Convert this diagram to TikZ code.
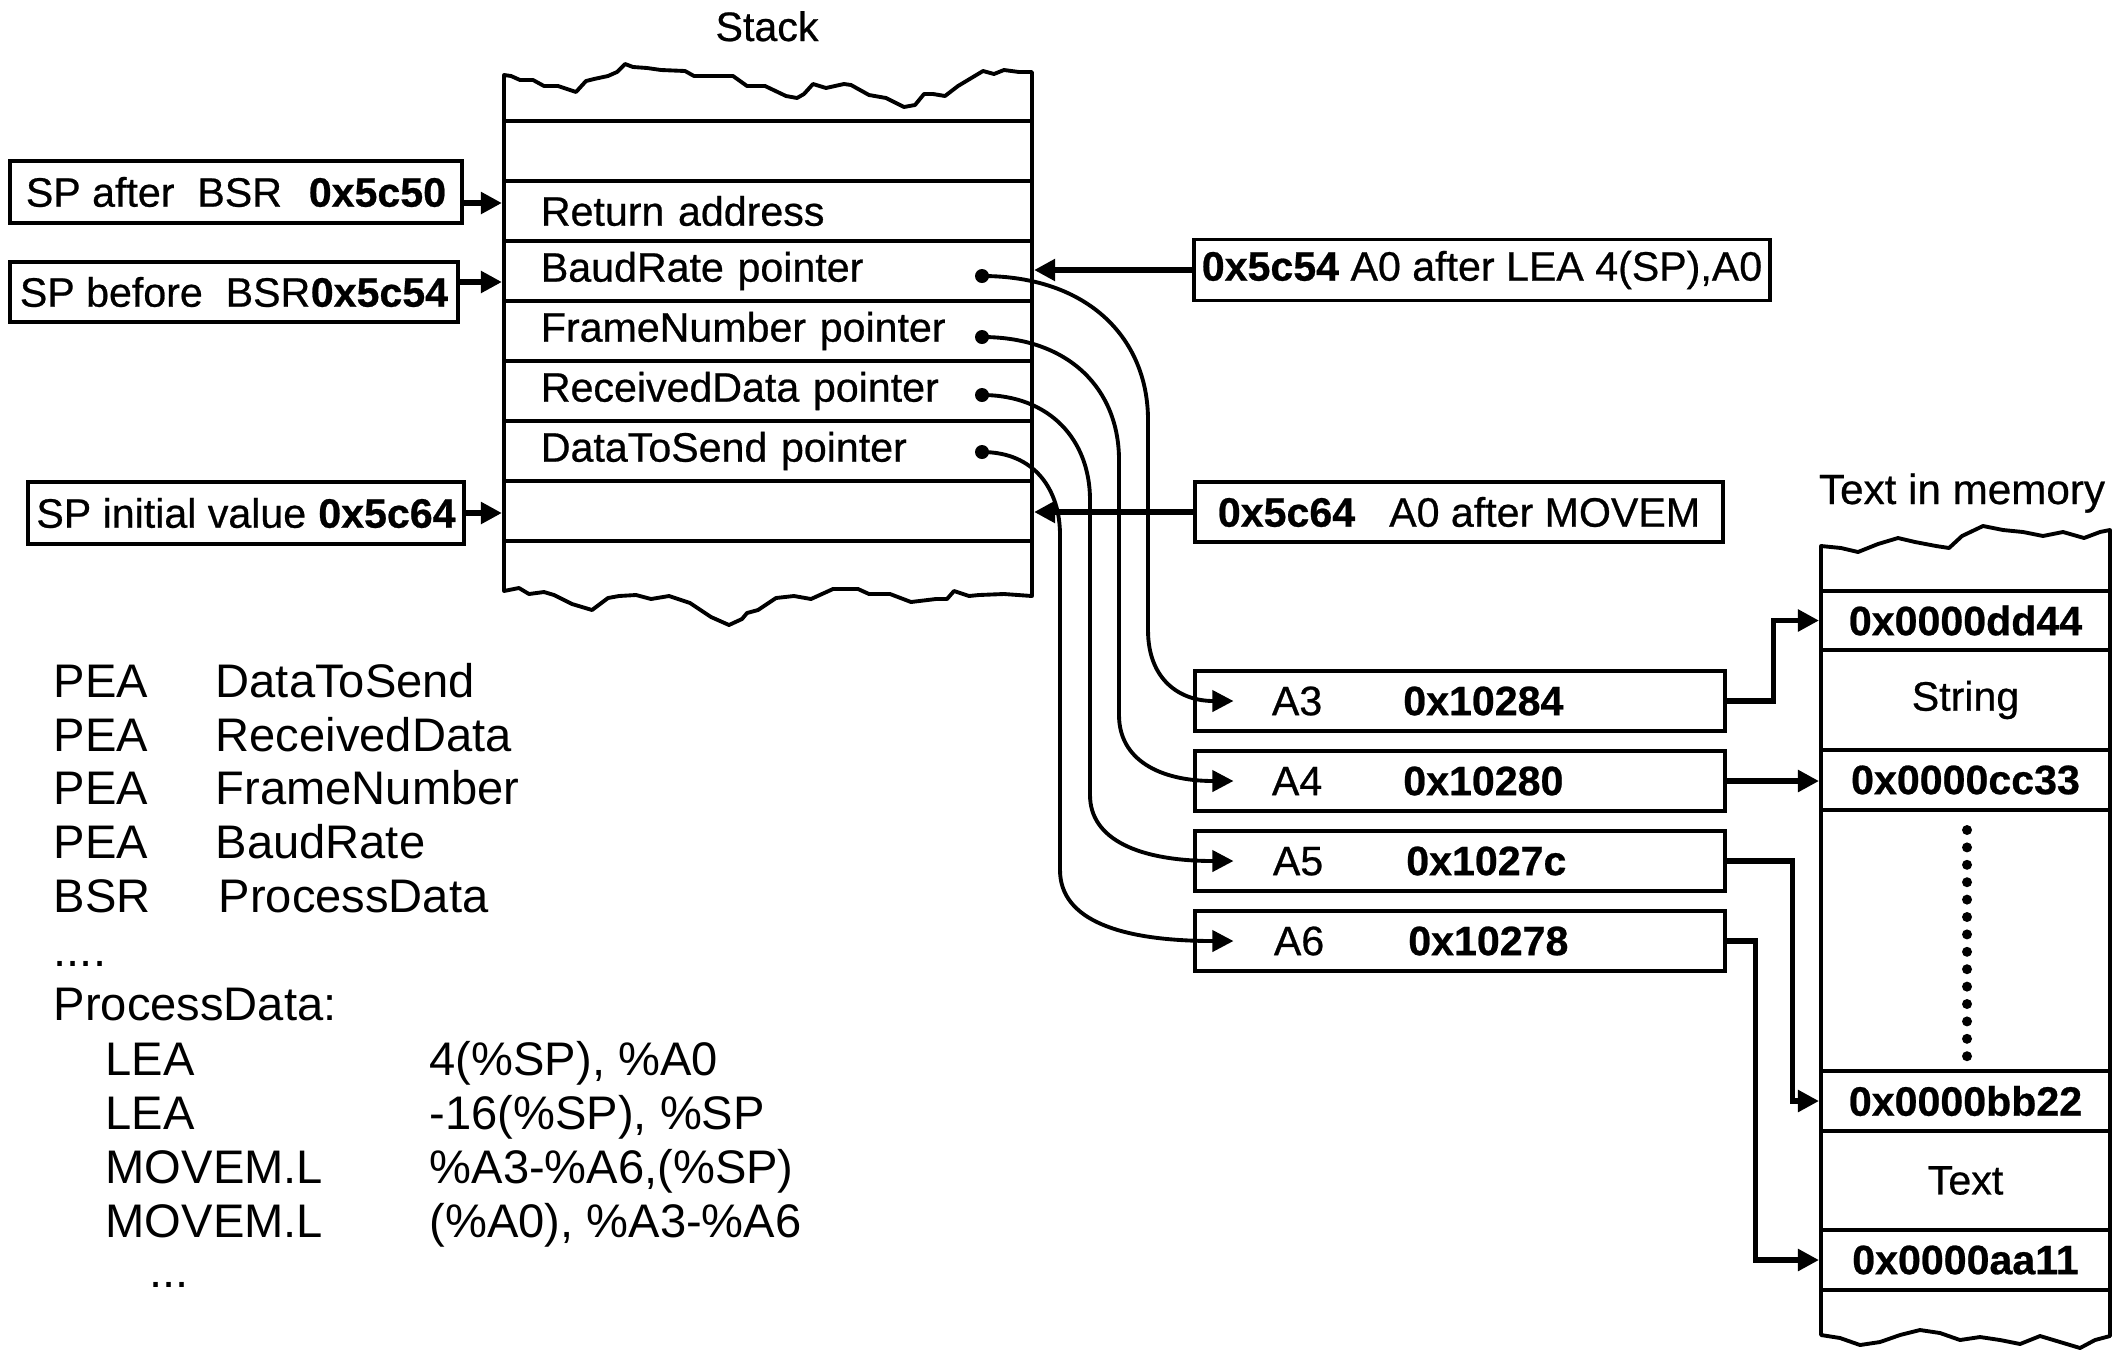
\documentclass[tikz,border=0pt]{standalone}
\usepackage{fontspec}
\setmainfont{Liberation Sans}
\newfontfamily\labfam[FakeBold=0.6]{Liberation Sans}
\usetikzlibrary{arrows.meta}
\newcommand\labfont{\labfam\fontsize{11.7}{14}\selectfont}
\newcommand\codefont{\fontsize{13.4}{16}\selectfont}
\begin{document}
\begin{tikzpicture}[x=0.01cm,y=-0.01cm,
  box/.style={draw,line width=1.1pt,inner sep=0pt,font=\labfont},
  cell/.style={draw,line width=1.1pt,minimum width=5.28cm,minimum height=0.6cm,text width=4.54cm,inner xsep=0.37cm,inner ysep=0pt,align=left,font=\labfont},
  mcell/.style={draw,line width=1.1pt,minimum width=2.89cm,inner sep=0pt,font=\labfont},
  reg/.style={draw,line width=1.1pt,minimum width=5.29cm,minimum height=0.6cm,inner sep=0pt,font=\labfont},
  code/.style={anchor=base west,inner sep=0pt,font=\codefont},
  arr/.style={-{Triangle[length=6pt,width=6pt]},line width=1.5pt},
  ptr/.style={-{Triangle[length=6pt,width=6pt]},line width=1.1pt},
  edge/.style={line width=1.1pt,line join=round}]
\useasboundingbox (0,0) rectangle (2116,1351);

% stack outline
\draw[edge] (504,75) -- (511,76) -- (520,80) -- (533,80) -- (544,86) -- (558,86) -- (576,92) -- (586,81) -- (594,79) -- (608,76) -- (617,72) -- (625,64) -- (633,67) -- (647,68) -- (661,70) -- (685,71) -- (694,76) -- (733,76) -- (747,86) -- (765,86) -- (786,96) -- (797,98) -- (804,94) -- (813,84) -- (826,88) -- (844,84) -- (851,85) -- (869,95) -- (886,98) -- (904,107) -- (915,105) -- (924,94) -- (933,94) -- (945,96) -- (958,86) -- (983,71) -- (994,74) -- (1004,70) -- (1019,72) -- (1032,72)
  -- (1032,596) -- (1004,594) -- (979,595) -- (969,596) -- (954,591) -- (947,599) -- (936,599) -- (911,602) -- (890,594) -- (869,594) -- (858,589) -- (833,589) -- (811,599) -- (794,596) -- (776,598) -- (758,610) -- (747,613) -- (742,619) -- (729,625) -- (711,617) -- (690,603) -- (669,596) -- (651,599) -- (636,595) -- (619,596) -- (608,598) -- (592,610) -- (572,604) -- (554,595) -- (544,592) -- (529,594) -- (519,588) -- (504,591) -- cycle;

\node[anchor=base,font=\labfont] (tStack) at (767,41) {Stack};
\node[cell] (sE) at (768,151) {};
\node[cell] (sRet) at (768,211) {Return address};
\node[cell] (sBaud) at (768,271) {BaudRate pointer};
\node[cell] (sFrame) at (768,331) {FrameNumber pointer};
\node[cell] (sRecv) at (768,391) {ReceivedData pointer};
\node[cell] (sDTS) at (768,451) {DataToSend pointer};
\node[cell] (sE2) at (768,511) {};

% SP boxes
\node[box,minimum width=4.52cm,minimum height=0.62cm] (spA) at (236,192) {\makebox[4.20cm][l]{SP after\ \ BSR\hfill\textbf{0x5c50}}};
\node[box,minimum width=4.48cm,minimum height=0.60cm] (spB) at (234,292) {\makebox[4.28cm][l]{SP before\ \ BSR\hfill\textbf{0x5c54}}};
\node[box,minimum width=4.36cm,minimum height=0.62cm] (spC) at (246,513) {\makebox[4.19cm][l]{SP initial value\hfill\textbf{0x5c64}}};
\draw[arr] ([yshift=-0.11cm]spA.east) -- ([yshift=-0.11cm]spA.east -| sRet.west);
\draw[arr] ([yshift=0.10cm]spB.east) -- ([yshift=0.10cm]spB.east -| sBaud.west);
\draw[arr] (spC.east) -- (spC.east -| sE2.west);

% A0 boxes
\node[box,minimum width=5.75cm,minimum height=0.61cm] (a0L) at (1482,270) {\textbf{0x5c54} A0 after LEA 4(SP),A0};
\node[box,minimum width=5.28cm,minimum height=0.60cm] (a0M) at (1459,512) {\textbf{0x5c64}\hspace{0.34cm}A0 after MOVEM};
\draw[arr] (a0L.west) -- (a0L.west -| sBaud.east);
\draw[arr] (a0M.west) -- (a0M.west -| sE2.east);

% registers
\node[reg] (r3) at (1460,701) {\makebox[3.76cm][l]{A3\hspace{0.81cm}\textbf{0x10284}}};
\node[reg] (r4) at (1460,781) {\makebox[3.76cm][l]{A4\hspace{0.81cm}\textbf{0x10280}}};
\node[reg] (r5) at (1460,861) {\makebox[3.74cm][l]{A5\hspace{0.83cm}\textbf{0x1027c}}};
\node[reg] (r6) at (1460,941) {\makebox[3.72cm][l]{A6\hspace{0.84cm}\textbf{0x10278}}};

% pointer dots and curves
\coordinate (dB) at (982,276);
\coordinate (dF) at (982,337);
\coordinate (dR) at (982,395);
\coordinate (dD) at (982,452);
\foreach \p in {dB,dF,dR,dD} \fill (\p) circle[radius=0.07cm];
\draw[ptr] (dB) .. controls (1090,276) and (1148,340) .. (1148,420) -- (1148,630) .. controls (1148,680) and (1180,701) .. ([xshift=0.4cm]r3.west);
\draw[ptr] (dF) .. controls (1070,337) and (1119,390) .. (1119,460) -- (1119,715) .. controls (1119,760) and (1160,781) .. ([xshift=0.4cm]r4.west);
\draw[ptr] (dR) .. controls (1050,395) and (1090,440) .. (1090,500) -- (1090,795) .. controls (1090,840) and (1140,861) .. ([xshift=0.4cm]r5.west);
\draw[ptr] (dD) .. controls (1035,452) and (1060,490) .. (1060,535) -- (1060,870) .. controls (1060,920) and (1120,941) .. ([xshift=0.4cm]r6.west);

% memory
\node[anchor=base,font=\labfont\fontsize{12}{14}\selectfont] (tMem) at (1962,504) {Text in memory};
\draw[edge] (1821,546) -- (1841,548) -- (1858,552) -- (1878,544) -- (1898,538) -- (1915,542) -- (1936,546) -- (1949,548) -- (1962,536) -- (1983,526) -- (2003,530) -- (2023,532) -- (2043,536) -- (2063,532) -- (2084,538) -- (2100,532) -- (2110,530)
  -- (2110,1336) -- (2095,1340) -- (2080,1348) -- (2060,1342) -- (2040,1336) -- (2020,1344) -- (2000,1340) -- (1980,1337) -- (1960,1340) -- (1940,1333) -- (1920,1330) -- (1900,1335) -- (1880,1342) -- (1860,1345) -- (1840,1338) -- (1821,1335) -- cycle;
\node[mcell,minimum height=0.59cm] (mDD) at (1965.5,620.5) {\textbf{0x0000dd44}};
\node[mcell,minimum height=1.00cm] (mStr) at (1965.5,700) {String};
\node[mcell,minimum height=0.60cm] (mCC) at (1965.5,780) {\textbf{0x0000cc33}};
\node[mcell,minimum height=0.60cm] (mBB) at (1965.5,1101) {\textbf{0x0000bb22}};
\node[mcell,minimum height=0.99cm] (mTxt) at (1965.5,1180.5) {Text};
\node[mcell,minimum height=0.60cm] (mAA) at (1965.5,1260) {\textbf{0x0000aa11}};
\foreach \i in {0,...,13} \fill (1967,830+17.4*\i) circle[radius=0.05cm];

\draw[arr] (r3.east) -- ++(47,0) |- (mDD.west);
\draw[arr] (r4.east) -- (r4.east -| mCC.west);
\draw[arr] (r5.east) -- ++(66,0) |- (mBB.west);
\draw[arr] (r6.east) -- ++(29,0) |- (mAA.west);

% code
\node[code] (c1a) at (53,697) {PEA};
\node[code] (c1b) at (215,697) {DataToSend};
\node[code] (c2a) at (53,751) {PEA};
\node[code] (c2b) at (215,751) {ReceivedData};
\node[code] (c3a) at (53,804) {PEA};
\node[code] (c3b) at (215,804) {FrameNumber};
\node[code] (c4a) at (53,858) {PEA};
\node[code] (c4b) at (215,858) {BaudRate};
\node[code] (c5a) at (53,912) {BSR};
\node[code] (c5b) at (218,912) {ProcessData};
\node[code] (c6) at (53,966) {....};
\node[code] (c7) at (53,1020) {ProcessData:};
\node[code] (c8a) at (105,1075) {LEA};
\node[code] (c8b) at (429,1075) {4(\%SP), \%A0};
\node[code] (c9a) at (105,1129) {LEA};
\node[code] (c9b) at (429,1129) {-16(\%SP), \%SP};
\node[code] (c10a) at (105,1183) {MOVEM.L};
\node[code] (c10b) at (429,1183) {\%A3-\%A6,(\%SP)};
\node[code] (c11a) at (105,1237) {MOVEM.L};
\node[code] (c11b) at (429,1237) {(\%A0), \%A3-\%A6};
\node[code] (c12) at (149,1287) {...};
\end{tikzpicture}
\end{document}
